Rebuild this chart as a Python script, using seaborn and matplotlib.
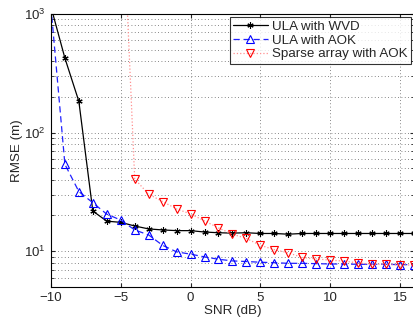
import matplotlib
matplotlib.use('Agg')
import matplotlib.pyplot as plt
import seaborn as sns
import pandas as pd
import numpy as np

# SNR axis and RMSE values
snr = list(range(-10, 17))
rmse_wvd = [1150, 424, 183, 21.8, 17.9, 17.5, 16.3, 15.4, 15.1, 14.9, 14.9, 14.5,
            14.3, 14.2, 14.3, 14.1, 14.1, 13.9, 14.1, 14.1, 14.1, 14.1, 14.1,
            14.1, 14.1, 14.1, 14.1]
rmse_aok = [1150, 54, 31.8, 25.6, 20.5, 18.3, 15.1, 13.7, 11.2, 9.87, 9.44, 8.95,
            8.55, 8.28, 8.18, 8.07, 8.0, 7.9, 7.9, 7.85, 7.8, 7.8, 7.75, 7.75,
            7.75, 7.7, 7.7]
snr_sparse = list(range(-5, 17))
rmse_sparse = [20000, 40.6, 30.2, 26.2, 22.7, 20.6, 18.0, 15.7, 13.9, 12.8, 11.2,
               10.3, 9.68, 8.85, 8.61, 8.4, 8.25, 7.96, 7.76, 7.76, 7.65, 7.65]

labels = ['ULA with WVD', 'ULA with AOK', 'Sparse array with AOK']

df = pd.concat([
    pd.DataFrame({'SNR': snr, 'RMSE': rmse_wvd, 'method': labels[0]}),
    pd.DataFrame({'SNR': snr, 'RMSE': rmse_aok, 'method': labels[1]}),
    pd.DataFrame({'SNR': snr_sparse, 'RMSE': rmse_sparse, 'method': labels[2]}),
])

sns.set_style('white')
plt.rcParams['font.family'] = ['Liberation Sans', 'DejaVu Sans']

fig = plt.figure(figsize=(4.14, 3.22), dpi=100)
ax = fig.add_axes([0.123, 0.109, 0.877, 0.848])

styles = {
    labels[0]: dict(color='black', ls='-', lw=0.9, marker=(6, 2, 0), ms=4.5,
                    mfc='black', mec='black', mew=0.8),
    labels[1]: dict(color='#2020ff', ls=(0, (5, 3)), lw=0.9, marker='^', ms=6,
                    mfc='none', mec='blue', mew=0.8),
    labels[2]: dict(color='#ff9090', ls=':', lw=0.9, marker='v', ms=6,
                    mfc='none', mec='red', mew=0.8),
}
for lab in labels:
    sub = df[df['method'] == lab]
    sns.lineplot(data=sub, x='SNR', y='RMSE', ax=ax, label=lab, **styles[lab])

ax.set_yscale('log')
ax.set_xlim(-10, 16)
ax.set_ylim(5, 1000)
ax.set_xticks([-10, -5, 0, 5, 10, 15])
ax.set_xticklabels(['\u221210', '\u22125', '0', '5', '10', '15'])

ax.grid(True, which='major', axis='both', color='#606060', ls=(0, (1, 3)), lw=0.6)
ax.grid(True, which='minor', axis='y', color='#606060', ls=(0, (1, 3)), lw=0.6)
ax.tick_params(which='both', direction='in', labelsize=9.5, top=True, right=True,
               left=True, bottom=True, length=3)
ax.tick_params(which='minor', length=2)
for s in ax.spines.values():
    s.set_color('black')
    s.set_linewidth(0.8)

ax.set_xlabel('SNR (dB)', fontsize=9.6, labelpad=1)
ax.set_ylabel('RMSE (m)', fontsize=9.6, labelpad=1)

leg = ax.legend(loc='upper right', fontsize=9.6, frameon=True, fancybox=False,
                edgecolor='black', borderpad=0.25, labelspacing=0.1,
                handlelength=2.6, handletextpad=0.3, borderaxespad=0.25)
leg.get_frame().set_linewidth(0.8)

fig.savefig('out.png', dpi=100)
